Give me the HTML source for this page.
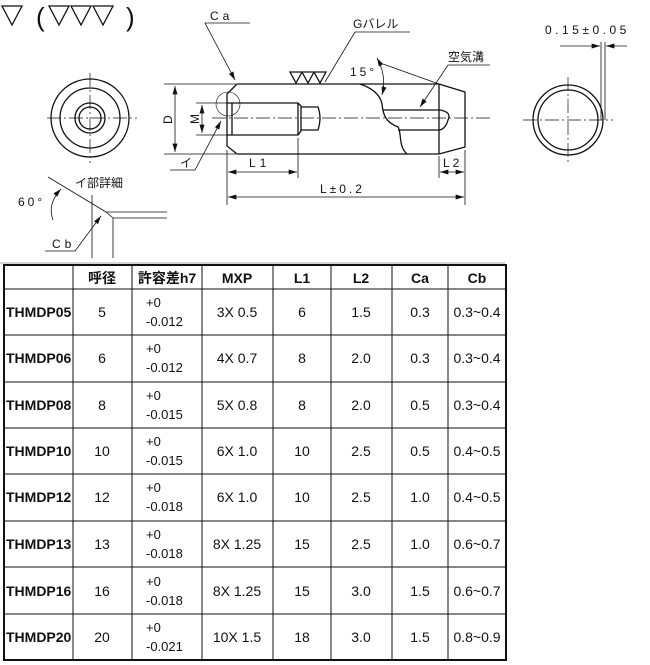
<!DOCTYPE html>
<html><head><meta charset="utf-8"><style>
html,body{margin:0;padding:0;background:#fff;}
svg{display:block;}
text{font-family:"Liberation Sans","Noto Sans CJK JP",sans-serif;fill:#111;}
</style></head><body>
<svg width="650" height="665" viewBox="0 0 650 665" xmlns="http://www.w3.org/2000/svg">
<defs>
<marker id="a" viewBox="0 0 10 6" refX="10" refY="3" markerWidth="9" markerHeight="5" orient="auto-start-reverse" markerUnits="userSpaceOnUse"><path d="M0,0 L10,3 L0,6z" fill="#111"/></marker>
</defs>
<g fill="none" stroke="#111" stroke-width="1.3">
<!-- surface symbols -->
<path d="M2,6 L22,6 L12,25z"/>
<path d="M49,6 L69,6 L59,25z M71,6 L91,6 L81,25z M93,6 L113,6 L103,25z"/>
<!-- left end view -->
<circle cx="90" cy="118" r="39"/>
<circle cx="90" cy="118" r="30"/>
<circle cx="90" cy="118" r="15"/>
<circle cx="90" cy="118" r="11"/>
<g stroke-width="0.7" stroke-dasharray="14,3,2,3"><path d="M47,118 H137 M90,73 V163"/></g>
<!-- main body -->
<path d="M237,84 H439 M237,154 H439 M237,84 L227,94 V146 L237,154"/>
<path d="M439,84 V154 M439,84 L465,92 V147 L439,154"/>
<path d="M227,103 H298 L301,106 V131 L298,135 H227 M232,103 V135 M298,103 V135"/>
<path d="M301,107 H318 Q322,118 318,130 H301"/>
<path d="M360,84 C372,88 380,94 382,104 C383,114 385,122 398,127 C402,133 398,146 407,154"/>
<path d="M383,110 H440 Q452,112 448,120 Q446,128 440,130 H398"/>
<g stroke-width="0.7" stroke-dasharray="14,3,2,3"><path d="M212,118 H490"/></g>
<!-- top symbol -->
<path d="M290,72 L302,72 L296,83z M302,72 L314,72 L308,83z M314,72 L326,72 L320,83z"/>
<g stroke-width="0.8">
<!-- D dim -->
<path d="M164,84 H236 M164,154 H236"/>
<path d="M175,86 V152" marker-start="url(#a)" marker-end="url(#a)"/>
<!-- M dim -->
<path d="M196,103 H230 M196,135 H230"/>
<path d="M202,105 V133" marker-start="url(#a)" marker-end="url(#a)"/>
<circle cx="228" cy="104" r="12" stroke-width="0.6"/>
<!-- イ leader -->
<path d="M170,170 H195 L221,121" marker-end="url(#a)"/>
<!-- Ca -->
<path d="M250,23 H205 L235,80" marker-end="url(#a)"/>
<!-- L1, L -->
<path d="M227,150 V205 M298,138 V178 M465,150 V205 M439,156 V178"/>
<path d="M228,172 H297" marker-start="url(#a)" marker-end="url(#a)"/>
<path d="M228,197 H464" marker-start="url(#a)" marker-end="url(#a)"/>
<path d="M440,172 H464" marker-start="url(#a)" marker-end="url(#a)"/>
<!-- G barrel -->
<path d="M410,32 H355 L325,82"/>
<!-- 15 deg -->
<path d="M383,64 L439,84"/>
<path d="M377,58 Q387,76 382,95" marker-start="url(#a)" marker-end="url(#a)"/>
<!-- air groove -->
<path d="M490,65 H448 L420,107" marker-end="url(#a)"/>
<!-- detail -->
<path d="M48,177 L106,212 L113,218"/>
<path d="M106,212 H167 M113,218 H167 M113,218 V258 M92,195 V258"/>
<path d="M53,220 Q47,204 61,189" marker-end="url(#a)"/>
<path d="M45,251 H75 L101,216" marker-end="url(#a)"/>
<!-- right view dims -->
<path d="M601,42 V120 M605,42 V120"/>
<path d="M560,46 H600" marker-end="url(#a)"/>
<path d="M627,46 H606" marker-end="url(#a)"/>
</g>
<circle cx="568" cy="120" r="35"/>
<circle cx="568" cy="120" r="30"/>
<g stroke-width="0.7" stroke-dasharray="14,3,2,3"><path d="M523,120 H613 M568,77 V163"/></g>
</g>
<path d="M0,263 H505" stroke="#aaa" stroke-width="1"/>
<g font-size="26" font-weight="300"><text x="36" y="26">(</text><text x="126" y="26">)</text></g>
<g font-size="12">
<text x="210" y="20" letter-spacing="4">Ca</text>
<text x="353" y="28">Gバレル</text>
<text x="350" y="76" letter-spacing="3">15°</text>
<text x="448" y="61">空気溝</text>
<text x="545" y="34" letter-spacing="3.5">0.15±0.05</text>
<text x="249" y="167" letter-spacing="4">L1</text>
<text x="443" y="167" letter-spacing="3">L2</text>
<text x="320" y="193" letter-spacing="3">L±0.2</text>
<text x="180" y="167">イ</text>
<text x="75" y="187">イ部詳細</text>
<text x="18" y="206" letter-spacing="3">60°</text>
<text x="52" y="248" letter-spacing="4">Cb</text>
<text transform="translate(172,124) rotate(-90)">D</text>
<text transform="translate(199,124) rotate(-90)">M</text>
</g>
<!-- table -->
<g stroke="#111" fill="none">
<rect x="4" y="265" width="502" height="395" stroke-width="2"/>
<g stroke-width="1">
<path d="M73,265 V660 M132,265 V660 M202,265 V660 M273,265 V660 M331,265 V660 M392,265 V660 M448,265 V660"/>
<path d="M4,289 H506 M4,335 H506 M4,382 H506 M4,428 H506 M4,474 H506 M4,521 H506 M4,567 H506 M4,614 H506"/>
</g>
</g>
<g font-size="14" text-anchor="middle" font-weight="bold">
<text x="102" y="283">呼径</text><text x="167" y="283">許容差h7</text><text x="237" y="283">MXP</text><text x="302" y="283">L1</text><text x="361" y="283">L2</text><text x="420" y="283">Ca</text><text x="477" y="283">Cb</text>
</g>
<g font-size="14">
<g font-weight="bold" text-anchor="start">
<text x="6" y="317">THMDP05</text><text x="6" y="363">THMDP06</text><text x="6" y="410">THMDP08</text><text x="6" y="456">THMDP10</text><text x="6" y="502">THMDP12</text><text x="6" y="549">THMDP13</text><text x="6" y="596">THMDP16</text><text x="6" y="642">THMDP20</text>
</g>
<g text-anchor="middle">
<text x="102" y="317">5</text><text x="237" y="317">3X 0.5</text><text x="302" y="317">6</text><text x="361" y="317">1.5</text><text x="420" y="317">0.3</text><text x="477" y="317">0.3~0.4</text>
<text x="102" y="363">6</text><text x="237" y="363">4X 0.7</text><text x="302" y="363">8</text><text x="361" y="363">2.0</text><text x="420" y="363">0.3</text><text x="477" y="363">0.3~0.4</text>
<text x="102" y="410">8</text><text x="237" y="410">5X 0.8</text><text x="302" y="410">8</text><text x="361" y="410">2.0</text><text x="420" y="410">0.5</text><text x="477" y="410">0.3~0.4</text>
<text x="102" y="456">10</text><text x="237" y="456">6X 1.0</text><text x="302" y="456">10</text><text x="361" y="456">2.5</text><text x="420" y="456">0.5</text><text x="477" y="456">0.4~0.5</text>
<text x="102" y="502">12</text><text x="237" y="502">6X 1.0</text><text x="302" y="502">10</text><text x="361" y="502">2.5</text><text x="420" y="502">1.0</text><text x="477" y="502">0.4~0.5</text>
<text x="102" y="549">13</text><text x="237" y="549">8X 1.25</text><text x="302" y="549">15</text><text x="361" y="549">2.5</text><text x="420" y="549">1.0</text><text x="477" y="549">0.6~0.7</text>
<text x="102" y="596">16</text><text x="237" y="596">8X 1.25</text><text x="302" y="596">15</text><text x="361" y="596">3.0</text><text x="420" y="596">1.5</text><text x="477" y="596">0.6~0.7</text>
<text x="102" y="642">20</text><text x="237" y="642">10X 1.5</text><text x="302" y="642">18</text><text x="361" y="642">3.0</text><text x="420" y="642">1.5</text><text x="477" y="642">0.8~0.9</text>
</g>
<g text-anchor="start" font-size="13">
<text x="146" y="307">+0</text><text x="146" y="326">-0.012</text>
<text x="146" y="353">+0</text><text x="146" y="372">-0.012</text>
<text x="146" y="400">+0</text><text x="146" y="419">-0.015</text>
<text x="146" y="446">+0</text><text x="146" y="465">-0.015</text>
<text x="146" y="492">+0</text><text x="146" y="511">-0.018</text>
<text x="146" y="539">+0</text><text x="146" y="558">-0.018</text>
<text x="146" y="586">+0</text><text x="146" y="605">-0.018</text>
<text x="146" y="632">+0</text><text x="146" y="651">-0.021</text>
</g>
</g>
</svg>
</body></html>
